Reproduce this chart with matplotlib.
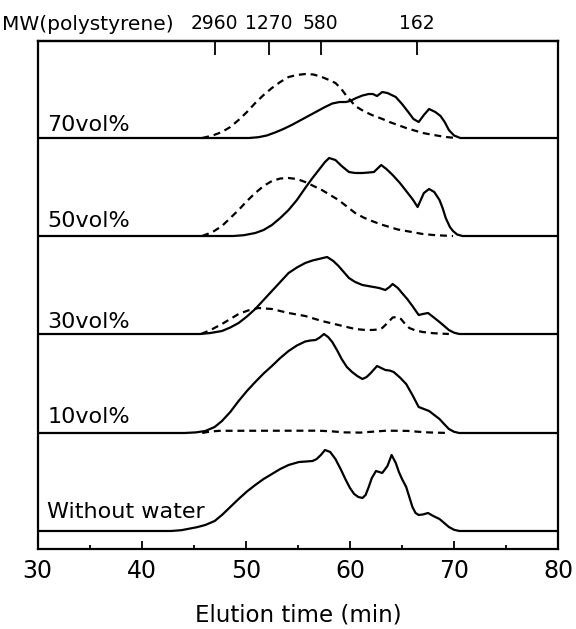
import numpy as np
import matplotlib
matplotlib.use("Agg")
import matplotlib.pyplot as plt

plt.rcParams["font.family"] = ["DejaVu Sans"]
plt.rcParams["lines.scale_dashes"] = False

# --------------------------------------------------
# Data (elution time in min, detector signal in px-like units above baseline)
# --------------------------------------------------
labels = ["70vol%", "50vol%", "30vol%", "10vol%", "Without water"]

t70_solid = [50.3, 51.2, 52.0, 52.8, 53.6, 54.4, 55.2, 56.0, 56.8, 57.6, 58.3, 59.0, 59.6,
             60.0, 60.6, 61.2, 61.8, 62.2, 62.6, 63.1, 63.6, 64.4, 65.0, 65.6, 66.1,
             66.6, 67.1, 67.6, 68.2, 68.7, 69.1, 69.5, 70.0, 70.6]
y70_solid = [0, 0.8, 2.5, 5.5, 9, 13, 17.5, 22, 26.5, 31, 34.5, 36, 36,
             37, 40, 42.5, 44, 44, 42, 46, 45, 41, 34, 26, 19,
             16, 23, 29, 26, 22, 16, 8, 2.5, 0]
t70_dash = [45.8, 46.8, 47.7, 48.5, 49.3, 50.1, 50.9, 51.7, 52.5, 53.3, 54.1, 54.9, 55.7,
            56.5, 57.3, 58.0, 58.6, 59.1, 59.6, 60.1, 60.5, 61.3, 62.1, 63.0, 63.8,
            64.6, 65.4, 66.2, 67.0, 67.8, 68.6, 69.4, 70.2]
y70_dash = [0, 2.5, 6, 11, 18, 26, 35, 43, 50, 56, 61, 63, 64,
            63.5, 61, 58, 55, 50, 43, 37, 32, 27, 23, 19.5, 16,
            13, 10, 7.5, 5, 3.5, 2, 0.8, 0]

t50_solid = [48.8, 49.8, 50.9, 51.7, 52.5, 53.3, 54.1, 54.9, 55.7, 56.4, 57.0, 57.6, 58.0,
             58.6, 59.2, 59.9, 60.5, 61.2, 61.8, 62.3, 62.7, 63.0, 63.5, 64.1, 64.8,
             65.4, 66.0, 66.5, 66.8, 67.1, 67.6, 68.1, 68.6, 68.9, 69.2, 69.6, 69.9,
             70.3, 70.8]
y50_solid = [0, 0.8, 3, 6, 11, 18, 26, 36, 48, 58, 66, 74, 78,
             76, 70, 64, 63, 63, 63.5, 64, 68, 71, 67, 61, 53,
             45, 37, 29, 36, 43, 47, 44, 36, 28, 18, 9, 5,
             1.5, 0]
t50_dash = [45.8, 46.8, 47.7, 48.5, 49.3, 50.1, 50.9, 51.7, 52.5, 53.3, 54.1, 54.9, 55.7,
            56.5, 57.3, 58.1, 58.9, 59.7, 60.5, 61.3, 62.1, 63.0, 63.8, 64.6, 65.4,
            66.2, 67.0, 68.0, 69.0, 69.9]
y50_dash = [0, 4, 10, 18, 26, 35, 43, 50, 55, 57.5, 58, 57, 54,
            50, 46, 41, 36, 29.5, 23, 18.5, 15, 11.5, 9, 6.5, 5,
            3.5, 2, 1, 0.4, 0]

t30_solid = [45.6, 46.6, 47.7, 48.5, 49.3, 50.1, 50.9, 51.7, 52.5, 53.3, 54.1, 54.9, 55.7,
             56.4, 57.0, 57.8, 58.4, 58.9, 59.4, 59.9, 60.5, 61.2, 62.0, 62.8, 63.4,
             63.8, 64.1, 64.6, 65.0, 65.5, 66.0, 66.6, 67.0, 67.5, 68.0, 68.6, 69.0,
             69.5, 70.0, 70.5]
y30_solid = [0, 1, 3, 6.5, 11, 17.5, 25, 34, 43, 52, 61, 66.5, 71,
             73.5, 75, 77, 73, 68, 62, 56, 52, 49, 47.5, 46, 44,
             47, 50, 46, 41, 35, 28, 19, 20, 21, 17, 12, 8.5,
             4, 1.3, 0]
t30_dash = [45.7, 46.7, 47.7, 48.5, 49.3, 50.2, 51.2, 52.5, 53.3, 54.1, 55.7, 57.3,
            58.9, 60.5, 61.3, 62.1, 62.7, 63.1, 63.6, 64.1, 64.5, 64.9, 65.3, 65.7,
            66.3, 67.0, 68.0, 69.5]
y30_dash = [0, 4.5, 10, 15, 20, 23.5, 26, 25, 23, 21, 18, 13,
            9, 5, 4.2, 4, 4.5, 6, 11, 16.5, 17, 15, 10, 6,
            3.5, 2, 0.8, 0]

t10_solid = [44.1, 45.2, 46.1, 47.0, 47.7, 48.5, 49.3, 50.1, 50.9, 51.7, 52.5, 53.3, 54.1,
             54.9, 55.7, 56.2, 56.7, 57.1, 57.5, 57.9, 58.3, 58.8, 59.2, 59.7, 60.2,
             60.7, 61.2, 61.6, 62.0, 62.6, 63.0, 63.4, 63.8, 64.2, 64.8, 65.4, 66.0,
             66.6, 67.1, 67.6, 68.1, 68.6, 69.0, 69.5, 70.0, 70.5]
y10_solid = [0, 0.6, 2, 6, 12, 21, 32, 42, 51, 59.5, 67, 75, 82,
             87.5, 91.5, 92.5, 93, 95.5, 99, 96, 91, 82, 74, 66, 61,
             57, 54, 56, 60, 67, 65, 63, 62.5, 61, 55.5, 49, 38,
             26, 24, 22, 18, 14, 9.5, 4, 1.2, 0]
t10_dash = [45.8, 46.6, 47.5, 57.0, 58.3, 59.5, 61.0, 62.3, 63.5, 65.5, 66.5, 67.5, 69.5]
y10_dash = [0, 1.5, 2.2, 2.3, 1.6, 0.6, 0.4, 1.4, 2.3, 2.1, 1.3, 0.6, 0]

t0_solid = [42.8, 43.8, 44.4, 45.3, 46.1, 47.0, 47.7, 48.5, 49.3, 50.1, 50.9, 51.7, 52.5,
            53.3, 54.1, 54.6, 55.1, 55.8, 56.4, 56.8, 57.2, 57.6, 58.1, 58.6, 59.1,
            59.6, 60.0, 60.4, 60.8, 61.2, 61.5, 61.8, 62.1, 62.5, 62.8, 63.1, 63.6,
            64.0, 64.4, 64.7, 65.0, 65.4, 65.7, 66.0, 66.3, 66.6, 67.0, 67.5, 68.0,
            68.6, 69.0, 69.5, 70.0, 70.5]
y0_solid = [0, 0.8, 2, 3.8, 6, 10, 16, 24, 32, 39.5, 46, 52, 57,
            62, 66, 67.5, 69, 69.5, 70, 72, 76, 81, 79, 72, 62,
            51, 43, 37, 34, 33, 36, 44, 53, 60, 59, 58, 65,
            76, 68, 59, 52, 44, 34, 24, 18, 16, 16.5, 18, 15,
            12, 8.5, 4, 1.2, 0]

solid_t = [t70_solid, t50_solid, t30_solid, t10_solid, t0_solid]
solid_y = [y70_solid, y50_solid, y30_solid, y10_solid, y0_solid]
dash_t = [t70_dash, t50_dash, t30_dash, t10_dash, None]
dash_y = [y70_dash, y50_dash, y30_dash, y10_dash, None]

mw_pos = [47.0, 52.2, 57.2, 66.4]
mw_labels = ["2960", "1270", "580", "162"]

# --------------------------------------------------
# Layout
# --------------------------------------------------
offsets = [411, 313, 215, 116, 18]
label_gap = [7, 9, 6, 10, 13]
xmin, xmax = 30, 80

fig = plt.figure(figsize=(5.76, 6.29), dpi=100)
ax = fig.add_axes([0.0655, 0.1272, 0.9035, 0.8076])

lw = 1.6
for i in range(5):
    off = offsets[i]
    ts = np.concatenate([[xmin], solid_t[i], [xmax]])
    ys = np.concatenate([[0], solid_y[i], [0]]) + off
    ax.plot(ts, ys, color="black", lw=lw, solid_joinstyle="round")
    if dash_t[i] is not None:
        ax.plot(dash_t[i], np.array(dash_y[i]) + off, color="black", lw=lw,
                linestyle=(0, (5, 3.5)))
    ax.text(30.9, off + label_gap[i], labels[i], fontsize=16, va="baseline", ha="left")

ax.set_xlim(xmin, xmax)
ax.set_ylim(0, 508)
ax.set_yticks([])
for s in ax.spines.values():
    s.set_linewidth(lw)

ax.set_xticks(range(30, 81, 10))
ax.set_xticks(range(35, 80, 10), minor=True)
ax.tick_params(axis="x", which="major", direction="in", length=6, width=1.3,
               labelsize=17, pad=7)
ax.tick_params(axis="x", which="minor", direction="in", length=3, width=1.3)
ax.set_xlabel("Elution time (min)", fontsize=16.5, labelpad=15)

top = ax.secondary_xaxis("top")
top.set_xticks(mw_pos, mw_labels)
top.tick_params(axis="x", direction="in", length=10, width=1.3, labelsize=13.5, pad=6)
top.spines["top"].set_linewidth(lw)

fig.text(2 / 576, 1 - 24 / 629, "MW(polystyrene)", fontsize=14.5, ha="left", va="center")

fig.savefig("out.png", dpi=100)
